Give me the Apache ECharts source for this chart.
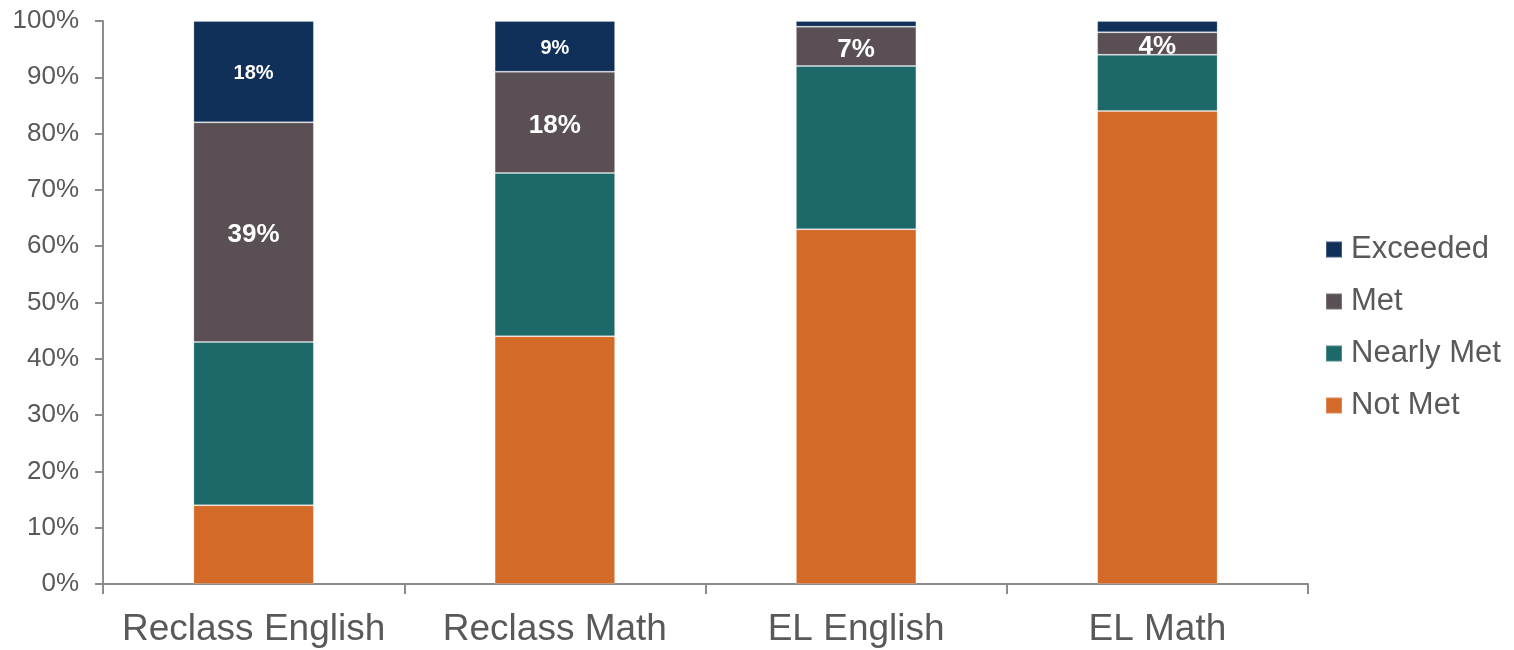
<!DOCTYPE html>
<html>
<head>
<meta charset="utf-8">
<script src="https://cdn.jsdelivr.net/npm/echarts@6/dist/echarts.min.js"></script>
<style>
  html, body { margin: 0; padding: 0; background: #fff; }
  #chart { width: 1514px; height: 650px; }
</style>
</head>
<body>
<div id="chart"></div>
<script>
// categories and stacked shares (%)
const categories = ["Reclass English", "Reclass Math", "EL English", "EL Math"];
const notMet = [14, 44, 63, 84];
const nearlyMet = [29, 29, 29, 10];
const met = [39, 18, 7, 4];
const exceeded = [18, 9, 1, 2];
const yTicks = [0, 10, 20, 30, 40, 50, 60, 70, 80, 90, 100];

const textColor = "#595959";
const font = "Liberation Sans, Arial, sans-serif";

let chart = echarts.init(document.getElementById("chart"));

function bar(name, data, color, label) {
  return {
    name: name,
    type: "bar",
    stack: "total",
    barWidth: "40%",
    itemStyle: {
      color: color,
      borderColor: "rgba(255,255,255,0.22)",
      borderWidth: 1,
    },
    label: label || { show: false },
    data: data,
  };
}

let option = {
  animation: false,
  textStyle: { fontFamily: font },
  grid: {
    left: 103,
    right: 206,
    top: 21,
    bottom: 66,
  },
  legend: {
    orient: "vertical",
    left: 1325,
    top: 234,
    padding: 0,
    itemWidth: 16,
    itemHeight: 16,
    itemGap: 21,
    icon: "rect",
    data: ["Exceeded", "Met", "Nearly Met", "Not Met"],
    textStyle: {
      color: textColor,
      fontSize: 31,
      fontFamily: font,
      padding: [0, 0, 0, 4],
    },
  },
  xAxis: {
    type: "category",
    data: categories,
    axisLine: { show: true, lineStyle: { color: "#8c8c8c", width: 2 } },
    axisTick: {
      show: true,
      alignWithLabel: false,
      interval: 0,
      inside: false,
      length: 10,
      lineStyle: { color: "#8c8c8c", width: 2 },
    },
    axisLabel: {
      interval: 0,
      color: textColor,
      fontSize: 37,
      fontFamily: font,
      margin: 27,
    },
  },
  yAxis: {
    type: "value",
    min: 0,
    max: 100,
    interval: 10,
    axisLine: { show: true, lineStyle: { color: "#8c8c8c", width: 2 } },
    axisTick: { show: true, length: 8, lineStyle: { color: "#8c8c8c", width: 2 } },
    splitLine: { show: false },
    axisLabel: {
      color: textColor,
      fontSize: 26,
      fontFamily: font,
      margin: 24,
      formatter: (v) => (yTicks.includes(v) ? v + "%" : ""),
    },
  },
  series: [
    bar("Not Met", notMet, "#D46A27"),
    bar("Nearly Met", nearlyMet, "#1D6868"),
    bar("Met", met, "#594F55", {
      show: true,
      position: "inside",
      offset: [0, 3],
      color: "#fff",
      fontWeight: "bold",
      fontSize: 26,
      fontFamily: font,
      formatter: (p) => p.value + "%",
    }),
    bar("Exceeded", exceeded, "#10305A", {
      show: true,
      position: "inside",
      offset: [0, 2],
      color: "#fff",
      fontWeight: "bold",
      fontSize: 20,
      fontFamily: font,
      formatter: (p) => (p.value >= 5 ? p.value + "%" : ""),
    }),
  ],
};

option && chart.setOption(option);
</script>
</body>
</html>
